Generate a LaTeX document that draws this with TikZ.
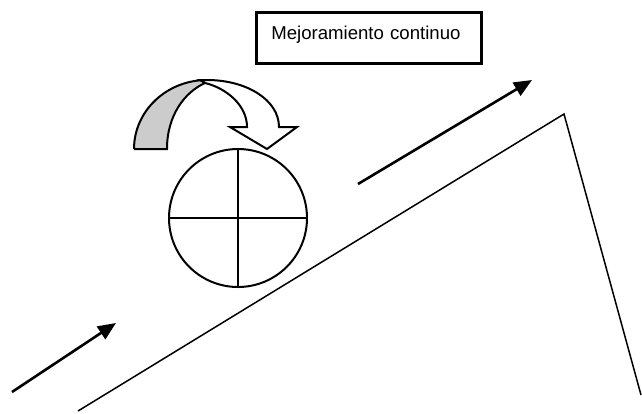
\documentclass[tikz,border=0pt]{standalone}
\usepackage{fontspec}
\setmainfont{Liberation Sans}
\usetikzlibrary{arrows.meta}
\begin{document}
\begin{tikzpicture}[x=1pt, y=-1pt, line join=miter,
    bigarrow/.style={line width=2.6pt, -{Triangle[length=18pt, width=15pt]}},
    slope/.style={line width=1.5pt}]
  \useasboundingbox (0,0) rectangle (642,413);
  % titulo
  \node[draw, line width=2.6pt, anchor=north west, inner xsep=15pt, inner ysep=0pt,
        text width=195pt, text height=27.3pt, text depth=23.7pt, align=left,
        font=\fontsize{18.6}{22}\selectfont] (title) at (255,11) {Mejoramiento continuo};
  % flecha curva
  \fill[black!20] (134,149) .. controls (134,110.9) and (166.7,80) .. (207,80)
    -- (205,83) .. controls (185,92) and (167,115) .. (167,149) -- cycle;
  \draw[line width=2pt] (134,149) .. controls (134,110.9) and (166.7,80) .. (207,80)
    (205,83) .. controls (185,92) and (167,115) .. (167,149) -- (134,149);
  \filldraw[fill=white, line width=2pt] (200,80) -- (207,80)
    .. controls (246.8,80) and (279,100.1) .. (279,127)
    -- (297,127) -- (267,149) -- (230,127) -- (247,127)
    .. controls (247,105) and (226,88) .. (205,83) -- cycle;
  % rueda
  \node[circle, draw, line width=2pt, minimum size=138pt, inner sep=0pt] (wheel) at (238,218) {};
  \draw[line width=2pt] (wheel.north) -- (wheel.south);
  \draw[line width=2pt] (wheel.west) -- (wheel.east);
  % pendiente
  \coordinate (foot) at (78,411);
  \coordinate (peak) at (564,114);
  \coordinate (drop) at (641,395);
  \draw[slope] (foot) -- (peak) -- (drop);
  % flechas
  \coordinate (lowstart) at (12,392);
  \coordinate (lowend) at (116,323);
  \coordinate (highstart) at (358,184);
  \coordinate (highend) at (532,80);
  \draw[bigarrow] (lowstart) -- (lowend);
  \draw[bigarrow] (highstart) -- (highend);
\end{tikzpicture}
\end{document}
